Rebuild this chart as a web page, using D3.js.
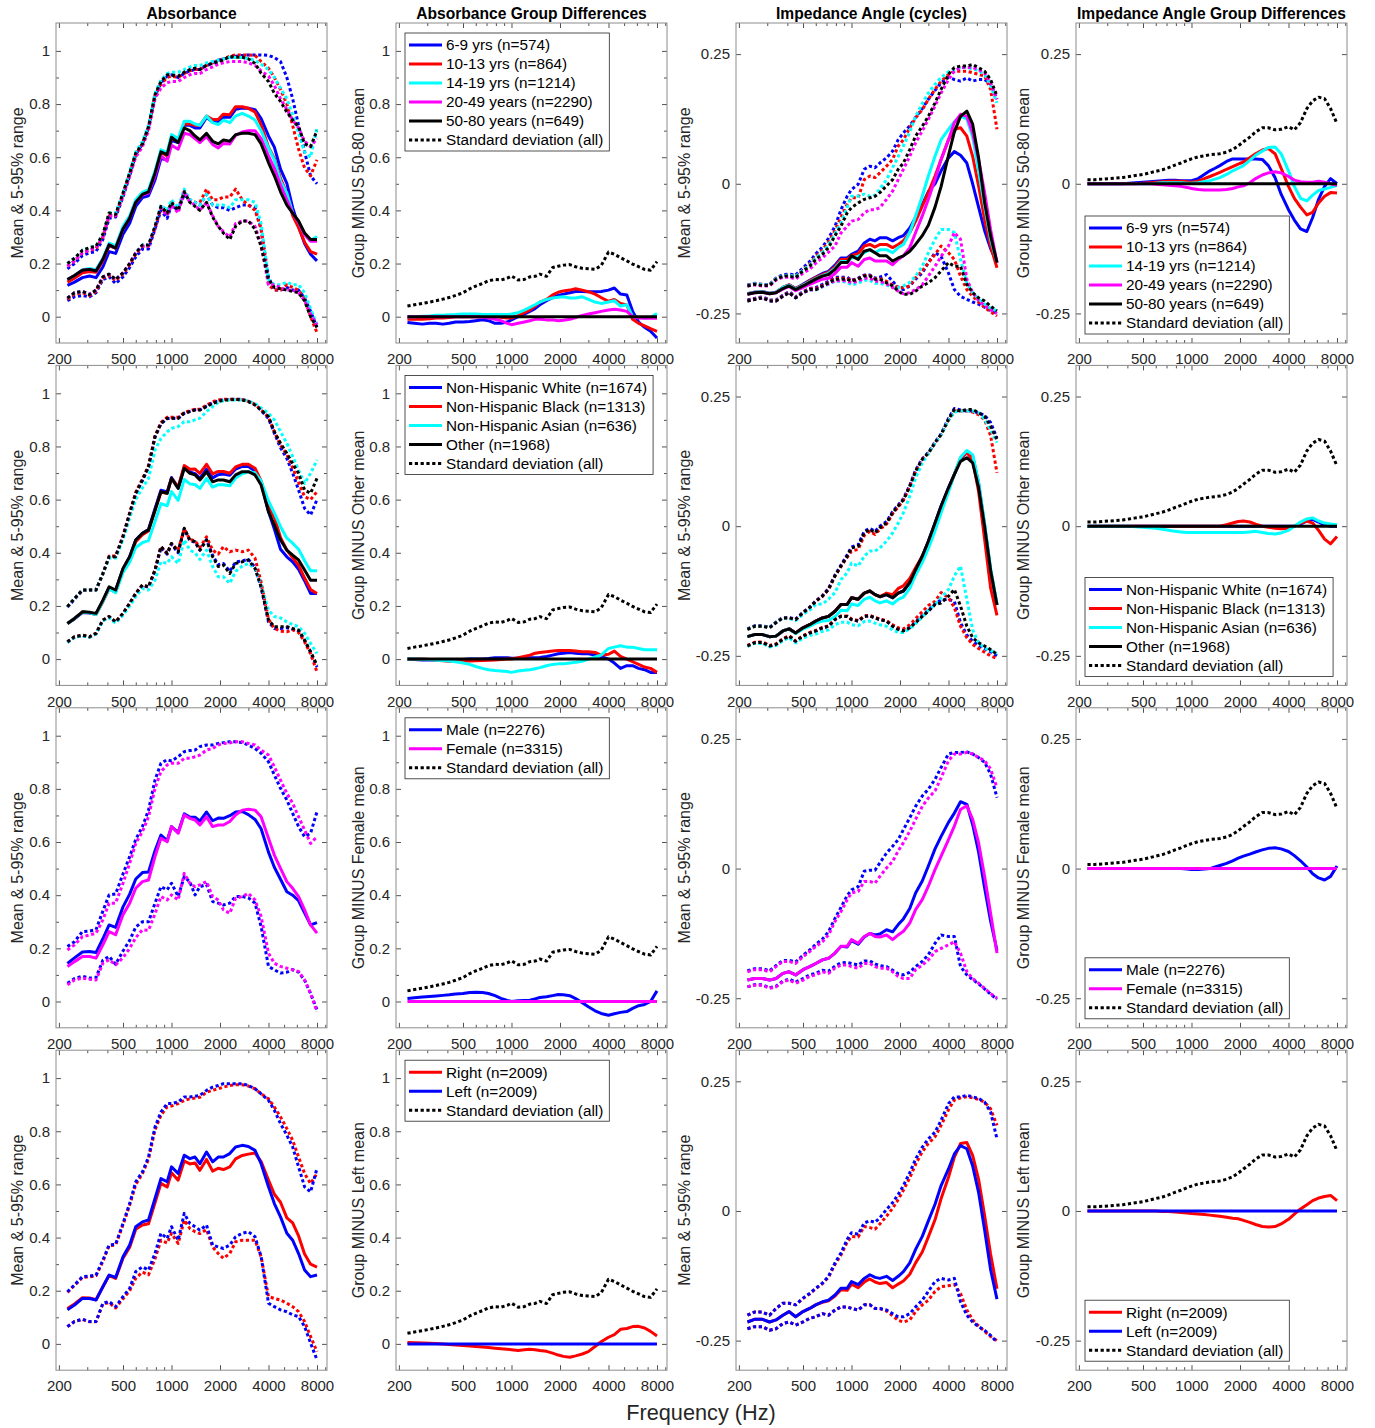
<!DOCTYPE html>
<html>
<head>
<meta charset="utf-8">
<script src="https://cdn.jsdelivr.net/npm/d3@7"></script>
<style>
body { margin: 0; background: #fff; }
text { font-family: "Liberation Sans", Arial, Helvetica, sans-serif; }
</style>
</head>
<body>
<div id="graph"></div>
<script>
// frequency grid (Hz) shared by every series
var freqHz = [226,250,280,310,340,375,410,450,500,550,600,660,720,790,860,940,1000,1100,1200,1300,1400,1500,1650,1800,1950,2100,2300,2500,2750,3000,3300,3600,4000,4350,4750,5200,5650,6150,6700,7300,8000];

var xTickLabels = [200, 500, 1000, 2000, 4000, 8000];
var xMinorTicks = [300, 400, 600, 700, 800, 900, 3000, 5000, 6000, 7000, 9000];
var absTickLabels = [0, 0.2, 0.4, 0.6, 0.8, 1];
var absMinorTicks = [0.1, 0.3, 0.5, 0.7, 0.9];
var angTickLabels = [-0.25, 0, 0.25];

// standard deviation (all), same in every row
var absSD = [0.04,0.045,0.05,0.055,0.06,0.066,0.072,0.08,0.09,0.105,0.115,0.125,0.135,0.14,0.138,0.145,0.153,0.138,0.14,0.15,0.152,0.16,0.152,0.185,0.19,0.194,0.196,0.188,0.182,0.18,0.178,0.192,0.243,0.235,0.222,0.21,0.198,0.188,0.178,0.175,0.207];
var angSD = [0.008,0.008,0.009,0.01,0.011,0.012,0.014,0.016,0.018,0.021,0.024,0.027,0.031,0.036,0.04,0.045,0.048,0.052,0.054,0.056,0.057,0.058,0.061,0.066,0.073,0.081,0.09,0.1,0.108,0.108,0.104,0.105,0.11,0.104,0.118,0.145,0.16,0.167,0.164,0.145,0.116];

// ---------- row 1: age ----------
var ageLabels = ["6-9 yrs (n=574)", "10-13 yrs (n=864)", "14-19 yrs (n=1214)", "20-49 years (n=2290)", "50-80 years (n=649)"];
var absMean50to80 = [0.14,0.155,0.175,0.178,0.172,0.215,0.27,0.258,0.33,0.37,0.43,0.46,0.47,0.54,0.62,0.61,0.675,0.655,0.71,0.7,0.68,0.665,0.69,0.66,0.65,0.665,0.66,0.685,0.69,0.69,0.685,0.65,0.58,0.53,0.47,0.42,0.39,0.36,0.315,0.29,0.29];
var absDiff6to9 = [-0.022,-0.025,-0.028,-0.025,-0.025,-0.028,-0.025,-0.02,-0.02,-0.018,-0.015,-0.012,-0.015,-0.025,-0.025,-0.02,-0.012,0,0.01,0.02,0.03,0.045,0.06,0.072,0.08,0.085,0.09,0.095,0.095,0.094,0.094,0.095,0.1,0.108,0.085,0.082,0.02,-0.02,-0.04,-0.055,-0.08];
var absDiff10to13 = [-0.01,-0.01,-0.01,-0.008,-0.005,-0.005,-0.003,0,0,0,0,0,0,0,-0.002,-0.005,-0.005,0.005,0.015,0.025,0.04,0.055,0.065,0.082,0.092,0.097,0.1,0.105,0.1,0.094,0.085,0.072,0.058,0.065,0.05,0.044,-0.01,-0.025,-0.035,-0.045,-0.055];
var absDiff14to19 = [0,0,0.002,0.003,0.005,0.005,0.007,0.008,0.01,0.01,0.01,0.008,0.008,0.008,0.008,0.008,0.01,0.015,0.025,0.035,0.045,0.055,0.065,0.07,0.073,0.075,0.07,0.07,0.075,0.065,0.055,0.05,0.055,0.06,0.04,0.045,0,-0.003,-0.005,-0.003,0.012];
var absDiff20to49 = [0,0,0,0,0,0,0,0,0,0,0,-0.002,-0.005,-0.01,-0.015,-0.025,-0.03,-0.025,-0.02,-0.015,-0.01,-0.01,-0.012,-0.012,-0.015,-0.013,-0.01,-0.003,0.005,0.01,0.015,0.02,0.025,0.028,0.025,0.02,0,-0.005,-0.006,-0.006,-0.006];
var absUp6to9 = [0.18,0.2,0.23,0.24,0.245,0.29,0.37,0.375,0.45,0.53,0.61,0.65,0.71,0.83,0.88,0.905,0.91,0.9,0.915,0.925,0.93,0.93,0.945,0.955,0.965,0.97,0.975,0.98,0.983,0.985,0.985,0.985,0.983,0.975,0.96,0.9,0.82,0.72,0.62,0.53,0.5];
var absUp10to13 = [0.19,0.21,0.24,0.25,0.255,0.3,0.38,0.38,0.46,0.54,0.61,0.65,0.71,0.83,0.875,0.9,0.905,0.9,0.915,0.925,0.93,0.93,0.945,0.955,0.965,0.97,0.98,0.985,0.985,0.985,0.983,0.96,0.935,0.9,0.855,0.8,0.72,0.63,0.56,0.53,0.59];
var absUp14to19 = [0.2,0.22,0.25,0.26,0.265,0.31,0.39,0.39,0.465,0.545,0.62,0.66,0.72,0.84,0.89,0.915,0.92,0.92,0.93,0.94,0.945,0.945,0.955,0.96,0.965,0.97,0.975,0.975,0.975,0.97,0.965,0.95,0.93,0.9,0.86,0.82,0.76,0.69,0.62,0.6,0.71];
var absUp20to49 = [0.19,0.21,0.24,0.25,0.26,0.3,0.38,0.38,0.455,0.53,0.6,0.64,0.7,0.82,0.86,0.88,0.885,0.885,0.9,0.91,0.915,0.915,0.93,0.94,0.95,0.955,0.96,0.96,0.96,0.955,0.945,0.925,0.905,0.87,0.82,0.78,0.74,0.71,0.66,0.64,0.67];
var absUp50to80 = [0.2,0.22,0.25,0.26,0.265,0.31,0.39,0.385,0.465,0.54,0.615,0.65,0.715,0.835,0.885,0.91,0.91,0.905,0.92,0.93,0.935,0.93,0.947,0.953,0.96,0.966,0.979,0.976,0.976,0.97,0.953,0.916,0.885,0.84,0.81,0.77,0.74,0.715,0.65,0.64,0.7];
var absLo6to9 = [0.06,0.075,0.08,0.075,0.09,0.14,0.15,0.125,0.15,0.185,0.225,0.255,0.255,0.33,0.4,0.37,0.42,0.4,0.46,0.44,0.43,0.42,0.46,0.42,0.41,0.41,0.4,0.41,0.42,0.42,0.41,0.33,0.15,0.1,0.1,0.11,0.1,0.1,0.07,0.02,-0.04];
var absLo10to13 = [0.065,0.085,0.09,0.08,0.095,0.145,0.155,0.135,0.16,0.195,0.235,0.265,0.265,0.335,0.41,0.385,0.43,0.41,0.47,0.44,0.43,0.43,0.48,0.44,0.44,0.45,0.45,0.48,0.44,0.42,0.4,0.33,0.12,0.1,0.1,0.12,0.11,0.1,0.07,0,-0.06];
var absLo14to19 = [0.07,0.09,0.095,0.085,0.1,0.15,0.16,0.14,0.165,0.2,0.24,0.27,0.27,0.34,0.42,0.4,0.44,0.41,0.48,0.44,0.43,0.42,0.46,0.42,0.42,0.42,0.41,0.44,0.44,0.44,0.43,0.35,0.14,0.12,0.12,0.13,0.12,0.12,0.09,0.03,-0.03];
var absLo20to49 = [0.07,0.09,0.095,0.085,0.1,0.15,0.16,0.14,0.165,0.2,0.24,0.265,0.265,0.33,0.41,0.38,0.42,0.39,0.47,0.43,0.42,0.4,0.43,0.38,0.34,0.32,0.3,0.35,0.36,0.36,0.34,0.27,0.12,0.12,0.11,0.1,0.1,0.09,0.06,0.01,-0.03];
var absLo50to80 = [0.07,0.09,0.095,0.083,0.1,0.15,0.16,0.14,0.165,0.2,0.24,0.27,0.27,0.34,0.415,0.39,0.43,0.4,0.47,0.43,0.415,0.4,0.43,0.375,0.34,0.315,0.29,0.34,0.36,0.36,0.33,0.265,0.14,0.11,0.105,0.1,0.095,0.09,0.06,0,-0.04];

var angMean6to9 = [-0.212,-0.209,-0.208,-0.211,-0.209,-0.2,-0.195,-0.202,-0.194,-0.186,-0.18,-0.173,-0.169,-0.157,-0.143,-0.143,-0.136,-0.13,-0.114,-0.107,-0.11,-0.104,-0.104,-0.11,-0.104,-0.1,-0.085,-0.065,-0.04,-0.015,0,0.025,0.05,0.062,0.055,0.04,0,-0.045,-0.09,-0.125,-0.152];
var angMean10to13 = [-0.212,-0.209,-0.208,-0.211,-0.209,-0.2,-0.195,-0.202,-0.195,-0.187,-0.181,-0.175,-0.171,-0.16,-0.146,-0.146,-0.138,-0.135,-0.12,-0.117,-0.122,-0.117,-0.117,-0.123,-0.117,-0.11,-0.094,-0.072,-0.043,-0.017,0.015,0.047,0.085,0.105,0.108,0.092,0.053,-0.004,-0.069,-0.12,-0.162];
var angMean14to19 = [-0.212,-0.209,-0.208,-0.211,-0.209,-0.2,-0.196,-0.203,-0.196,-0.189,-0.183,-0.177,-0.173,-0.163,-0.15,-0.15,-0.143,-0.14,-0.133,-0.127,-0.133,-0.127,-0.127,-0.133,-0.123,-0.117,-0.094,-0.062,-0.024,0.015,0.053,0.085,0.105,0.12,0.13,0.125,0.09,0.025,-0.043,-0.107,-0.152];
var angMean20to49 = [-0.213,-0.21,-0.209,-0.212,-0.21,-0.203,-0.198,-0.206,-0.2,-0.194,-0.189,-0.184,-0.182,-0.173,-0.161,-0.161,-0.152,-0.159,-0.146,-0.143,-0.149,-0.149,-0.149,-0.156,-0.146,-0.139,-0.123,-0.094,-0.062,-0.03,0.008,0.047,0.085,0.118,0.134,0.13,0.098,0.047,-0.017,-0.088,-0.152];
var angMean50to80 = [-0.213,-0.21,-0.209,-0.212,-0.21,-0.202,-0.197,-0.204,-0.197,-0.19,-0.184,-0.178,-0.175,-0.165,-0.152,-0.152,-0.139,-0.146,-0.13,-0.127,-0.133,-0.139,-0.139,-0.149,-0.143,-0.139,-0.13,-0.117,-0.1,-0.08,-0.045,-0.005,0.055,0.1,0.13,0.14,0.115,0.05,-0.035,-0.1,-0.152];
var angDiff6to9 = [0,0,0,0,0,0,0.001,0.002,0.003,0.004,0.005,0.006,0.007,0.007,0.006,0.006,0.006,0.01,0.018,0.025,0.03,0.035,0.043,0.048,0.048,0.048,0.048,0.048,0.047,0.035,0.012,-0.02,-0.05,-0.07,-0.087,-0.092,-0.065,-0.03,-0.005,0.01,0];
var angDiff10to13 = [0,0,0,0,0,0,0,0,0.001,0.002,0.003,0.004,0.005,0.005,0.005,0.004,0.003,0.005,0.01,0.014,0.018,0.022,0.028,0.033,0.038,0.042,0.05,0.058,0.065,0.068,0.058,0.03,-0.005,-0.028,-0.045,-0.06,-0.055,-0.037,-0.024,-0.017,-0.018];
var angDiff14to19 = [0,0,0,0,0,0,0,0,0,0,0.001,0.002,0.002,0.002,0.002,0.001,0.001,0.002,0.004,0.006,0.009,0.012,0.018,0.025,0.03,0.035,0.045,0.055,0.063,0.07,0.071,0.058,0.025,-0.005,-0.028,-0.033,-0.022,-0.013,-0.01,-0.007,-0.003];
var angDiff20to49 = [0,0,0,0,0,0,0,0,0,0,-0.001,-0.002,-0.003,-0.004,-0.005,-0.007,-0.009,-0.011,-0.012,-0.012,-0.012,-0.012,-0.011,-0.009,-0.006,-0.004,0.002,0.01,0.017,0.021,0.023,0.021,0.014,0.007,0.004,0.003,0.003,0.005,0.003,0,-0.003];
var angUp6to9 = [-0.195,-0.192,-0.194,-0.194,-0.182,-0.175,-0.174,-0.176,-0.162,-0.15,-0.135,-0.122,-0.105,-0.082,-0.05,-0.024,-0.011,-0.001,0.028,0.034,0.031,0.04,0.05,0.063,0.085,0.098,0.112,0.128,0.145,0.163,0.18,0.195,0.205,0.201,0.198,0.204,0.198,0.201,0.201,0.192,0.163];
var angUp10to13 = [-0.196,-0.193,-0.195,-0.195,-0.183,-0.177,-0.176,-0.179,-0.165,-0.155,-0.14,-0.128,-0.112,-0.09,-0.065,-0.04,-0.027,-0.027,0.008,0.015,0.012,0.021,0.034,0.047,0.073,0.085,0.108,0.127,0.143,0.163,0.182,0.198,0.211,0.217,0.217,0.217,0.214,0.211,0.208,0.182,0.105];
var angUp14to19 = [-0.196,-0.193,-0.195,-0.195,-0.183,-0.177,-0.176,-0.179,-0.166,-0.157,-0.143,-0.132,-0.118,-0.096,-0.075,-0.045,-0.024,-0.024,-0.02,-0.024,-0.022,-0.01,0.008,0.031,0.053,0.073,0.1,0.13,0.155,0.175,0.192,0.205,0.216,0.22,0.224,0.224,0.222,0.218,0.21,0.19,0.156];
var angUp20to49 = [-0.197,-0.195,-0.197,-0.197,-0.186,-0.18,-0.18,-0.184,-0.172,-0.165,-0.153,-0.143,-0.132,-0.12,-0.095,-0.082,-0.072,-0.069,-0.056,-0.05,-0.05,-0.046,-0.03,-0.014,0.008,0.028,0.053,0.079,0.102,0.124,0.15,0.175,0.201,0.217,0.224,0.224,0.224,0.22,0.214,0.195,0.163];
var angUp50to80 = [-0.197,-0.194,-0.196,-0.196,-0.184,-0.178,-0.178,-0.181,-0.168,-0.159,-0.146,-0.136,-0.123,-0.1,-0.082,-0.056,-0.046,-0.037,-0.03,-0.027,-0.024,-0.017,-0.004,0.008,0.028,0.04,0.066,0.092,0.111,0.13,0.156,0.182,0.211,0.224,0.227,0.227,0.23,0.224,0.217,0.201,0.169];
var angLo6to9 = [-0.224,-0.221,-0.218,-0.224,-0.224,-0.215,-0.208,-0.218,-0.208,-0.202,-0.2,-0.194,-0.188,-0.18,-0.18,-0.18,-0.186,-0.182,-0.176,-0.176,-0.182,-0.18,-0.175,-0.188,-0.2,-0.204,-0.197,-0.184,-0.172,-0.152,-0.133,-0.14,-0.172,-0.204,-0.217,-0.223,-0.228,-0.232,-0.238,-0.244,-0.25];
var angLo10to13 = [-0.225,-0.222,-0.219,-0.225,-0.225,-0.216,-0.209,-0.219,-0.209,-0.203,-0.202,-0.196,-0.19,-0.182,-0.182,-0.182,-0.187,-0.183,-0.177,-0.177,-0.183,-0.183,-0.188,-0.195,-0.2,-0.2,-0.197,-0.181,-0.168,-0.152,-0.136,-0.12,-0.133,-0.146,-0.178,-0.204,-0.217,-0.228,-0.238,-0.247,-0.255];
var angLo14to19 = [-0.226,-0.223,-0.22,-0.226,-0.226,-0.217,-0.21,-0.22,-0.21,-0.205,-0.205,-0.199,-0.194,-0.188,-0.188,-0.19,-0.195,-0.192,-0.186,-0.186,-0.192,-0.192,-0.195,-0.2,-0.2,-0.197,-0.19,-0.178,-0.159,-0.133,-0.107,-0.088,-0.088,-0.094,-0.146,-0.191,-0.21,-0.222,-0.232,-0.24,-0.245];
var angLo20to49 = [-0.226,-0.223,-0.22,-0.226,-0.226,-0.217,-0.21,-0.22,-0.21,-0.205,-0.204,-0.198,-0.193,-0.187,-0.187,-0.187,-0.191,-0.188,-0.182,-0.182,-0.188,-0.188,-0.193,-0.2,-0.207,-0.212,-0.21,-0.204,-0.195,-0.178,-0.159,-0.14,-0.12,-0.094,-0.107,-0.184,-0.21,-0.225,-0.235,-0.243,-0.25];
var angLo50to80 = [-0.226,-0.223,-0.22,-0.226,-0.226,-0.217,-0.21,-0.22,-0.21,-0.204,-0.204,-0.197,-0.191,-0.184,-0.184,-0.184,-0.188,-0.184,-0.178,-0.178,-0.184,-0.184,-0.191,-0.197,-0.207,-0.213,-0.213,-0.207,-0.197,-0.191,-0.181,-0.168,-0.152,-0.159,-0.159,-0.194,-0.21,-0.22,-0.226,-0.236,-0.245];

// ---------- row 2: race / ethnicity ----------
var raceLabels = ["Non-Hispanic White (n=1674)", "Non-Hispanic Black (n=1313)", "Non-Hispanic Asian (n=636)", "Other (n=1968)"];
var absMeanOther = [0.134,0.153,0.178,0.176,0.172,0.222,0.272,0.26,0.341,0.385,0.448,0.473,0.486,0.561,0.63,0.624,0.68,0.642,0.718,0.699,0.693,0.674,0.705,0.667,0.674,0.674,0.667,0.693,0.705,0.705,0.693,0.655,0.555,0.504,0.448,0.41,0.391,0.373,0.335,0.297,0.297];
var absDiffWhite = [0,-0.002,-0.003,-0.003,-0.003,-0.003,-0.003,-0.002,-0.002,0,0,0,0.002,0.005,0.005,0.005,0.003,0.003,0.004,0.005,0.005,0.006,0.01,0.015,0.02,0.022,0.025,0.022,0.02,0.02,0.015,0.01,0,-0.015,-0.035,-0.025,-0.025,-0.035,-0.04,-0.05,-0.05];
var absDiffBlack = [0,0,0,-0.002,-0.004,-0.006,-0.008,-0.008,-0.008,-0.007,-0.006,-0.005,-0.004,-0.003,-0.002,0,0,0.005,0.01,0.015,0.022,0.025,0.028,0.03,0.032,0.032,0.032,0.03,0.028,0.028,0.025,0.015,0.018,0.03,0.01,0,-0.01,-0.02,-0.03,-0.035,-0.05];
var absDiffAsian = [0,0,-0.001,-0.002,-0.004,-0.005,-0.007,-0.01,-0.015,-0.02,-0.028,-0.035,-0.04,-0.043,-0.045,-0.047,-0.05,-0.045,-0.042,-0.04,-0.036,-0.032,-0.025,-0.02,-0.018,-0.018,-0.015,-0.012,-0.008,0,0.008,0.015,0.04,0.045,0.05,0.045,0.045,0.04,0.035,0.035,0.035];
var absUpWhite = [0.195,0.225,0.258,0.26,0.26,0.32,0.383,0.385,0.46,0.545,0.622,0.672,0.722,0.835,0.885,0.905,0.906,0.906,0.925,0.932,0.938,0.938,0.952,0.965,0.971,0.976,0.977,0.978,0.977,0.97,0.958,0.935,0.905,0.85,0.795,0.755,0.7,0.636,0.567,0.542,0.6];
var absUpBlack = [0.197,0.228,0.26,0.26,0.26,0.322,0.388,0.388,0.465,0.55,0.628,0.678,0.728,0.84,0.89,0.91,0.91,0.91,0.928,0.935,0.94,0.94,0.955,0.968,0.975,0.978,0.978,0.978,0.976,0.97,0.958,0.938,0.91,0.855,0.805,0.77,0.72,0.665,0.611,0.6,0.63];
var absUpAsian = [0.197,0.228,0.26,0.26,0.26,0.322,0.38,0.38,0.45,0.53,0.6,0.645,0.68,0.787,0.83,0.855,0.868,0.875,0.893,0.893,0.9,0.906,0.931,0.95,0.965,0.972,0.975,0.975,0.975,0.97,0.962,0.945,0.925,0.9,0.856,0.812,0.762,0.711,0.661,0.699,0.749];
var absUpOther = [0.197,0.228,0.26,0.26,0.26,0.322,0.385,0.385,0.46,0.548,0.624,0.674,0.724,0.837,0.887,0.906,0.906,0.906,0.925,0.931,0.937,0.937,0.95,0.962,0.969,0.975,0.975,0.977,0.975,0.969,0.956,0.937,0.912,0.856,0.812,0.774,0.736,0.699,0.636,0.624,0.68];
var absLoWhite = [0.063,0.082,0.088,0.082,0.095,0.145,0.158,0.138,0.17,0.208,0.245,0.277,0.27,0.333,0.42,0.395,0.432,0.4,0.49,0.445,0.44,0.41,0.45,0.39,0.355,0.36,0.33,0.365,0.37,0.375,0.345,0.27,0.14,0.115,0.115,0.118,0.112,0.105,0.07,0.025,-0.03];
var absLoBlack = [0.065,0.084,0.09,0.084,0.097,0.147,0.16,0.14,0.172,0.21,0.247,0.279,0.272,0.335,0.423,0.398,0.435,0.41,0.49,0.45,0.445,0.42,0.46,0.41,0.395,0.423,0.404,0.41,0.404,0.41,0.38,0.29,0.15,0.115,0.105,0.103,0.11,0.1,0.065,0.02,-0.048];
var absLoAsian = [0.063,0.082,0.088,0.082,0.095,0.145,0.155,0.135,0.165,0.2,0.235,0.265,0.26,0.297,0.366,0.36,0.385,0.36,0.448,0.41,0.4,0.375,0.41,0.348,0.31,0.31,0.285,0.33,0.35,0.36,0.34,0.28,0.184,0.16,0.155,0.14,0.13,0.122,0.097,0.059,0.021];
var absLoOther = [0.065,0.084,0.09,0.084,0.097,0.147,0.16,0.14,0.172,0.21,0.247,0.279,0.272,0.335,0.423,0.398,0.435,0.404,0.492,0.448,0.442,0.41,0.448,0.385,0.348,0.354,0.322,0.36,0.366,0.373,0.341,0.272,0.147,0.122,0.122,0.122,0.115,0.109,0.072,0.028,-0.023];

var angMeanOther = [-0.213,-0.209,-0.209,-0.213,-0.212,-0.202,-0.198,-0.206,-0.196,-0.19,-0.183,-0.177,-0.174,-0.164,-0.151,-0.151,-0.138,-0.141,-0.129,-0.125,-0.132,-0.136,-0.132,-0.138,-0.129,-0.125,-0.109,-0.084,-0.058,-0.029,0.006,0.039,0.074,0.1,0.125,0.132,0.122,0.075,0,-0.085,-0.152];
var angDiffWhite = [0,0,0,0,0,0,0,0,0,0,0,0,0,0,0,0,0,0,0,0,0,0,0,0,0,0,0,0,0,0,0,0,0,0,0.004,0.01,0.013,0.008,0.002,0,0];
var angDiffBlack = [0,0,0,0,0,0,0,0,0,0,0,0,0,0,0,0,0,0,0,0,0,0,0.003,0.006,0.009,0.01,0.008,0.004,0,-0.002,-0.004,-0.005,-0.004,0,0.006,0.01,0.006,-0.008,-0.025,-0.034,-0.02];
var angDiffAsian = [0,0,0,0,0,0,0,-0.001,-0.002,-0.003,-0.004,-0.006,-0.008,-0.01,-0.011,-0.012,-0.012,-0.012,-0.012,-0.012,-0.012,-0.012,-0.012,-0.012,-0.012,-0.012,-0.011,-0.01,-0.012,-0.014,-0.015,-0.013,-0.008,0,0.008,0.014,0.016,0.01,0.006,0.004,0.003];
var angUpWhite = [-0.198,-0.192,-0.192,-0.195,-0.185,-0.176,-0.176,-0.179,-0.166,-0.156,-0.144,-0.134,-0.12,-0.094,-0.075,-0.055,-0.04,-0.036,-0.01,-0.004,-0.01,0,0.009,0.028,0.041,0.053,0.079,0.108,0.13,0.142,0.162,0.178,0.208,0.227,0.224,0.222,0.222,0.218,0.214,0.2,0.17];
var angUpBlack = [-0.199,-0.193,-0.193,-0.196,-0.186,-0.177,-0.177,-0.18,-0.167,-0.157,-0.145,-0.135,-0.122,-0.096,-0.078,-0.06,-0.048,-0.045,-0.018,-0.01,-0.016,-0.006,0.004,0.024,0.037,0.05,0.076,0.105,0.128,0.14,0.16,0.176,0.204,0.222,0.222,0.222,0.22,0.215,0.205,0.175,0.103];
var angUpAsian = [-0.199,-0.193,-0.193,-0.196,-0.186,-0.177,-0.178,-0.182,-0.17,-0.162,-0.151,-0.15,-0.141,-0.128,-0.103,-0.09,-0.071,-0.077,-0.058,-0.048,-0.048,-0.042,-0.029,-0.013,0.006,0.026,0.058,0.093,0.122,0.14,0.16,0.176,0.204,0.22,0.222,0.222,0.222,0.219,0.206,0.186,0.161];
var angUpOther = [-0.199,-0.193,-0.193,-0.196,-0.186,-0.177,-0.177,-0.18,-0.167,-0.157,-0.145,-0.135,-0.122,-0.096,-0.077,-0.058,-0.042,-0.039,-0.013,-0.006,-0.013,-0.003,0.006,0.026,0.039,0.051,0.077,0.106,0.129,0.141,0.161,0.177,0.206,0.225,0.222,0.225,0.225,0.219,0.212,0.193,0.167];
var angLoWhite = [-0.231,-0.225,-0.224,-0.231,-0.228,-0.218,-0.212,-0.222,-0.212,-0.206,-0.202,-0.196,-0.193,-0.18,-0.174,-0.174,-0.18,-0.183,-0.174,-0.173,-0.177,-0.18,-0.183,-0.192,-0.198,-0.2,-0.195,-0.185,-0.173,-0.162,-0.15,-0.142,-0.141,-0.145,-0.186,-0.21,-0.222,-0.23,-0.236,-0.242,-0.25];
var angLoBlack = [-0.23,-0.224,-0.223,-0.23,-0.227,-0.217,-0.211,-0.221,-0.211,-0.205,-0.201,-0.195,-0.192,-0.179,-0.173,-0.173,-0.179,-0.182,-0.173,-0.172,-0.176,-0.179,-0.182,-0.19,-0.196,-0.198,-0.19,-0.178,-0.165,-0.153,-0.145,-0.128,-0.138,-0.157,-0.193,-0.215,-0.228,-0.236,-0.243,-0.25,-0.255];
var angLoAsian = [-0.232,-0.226,-0.226,-0.233,-0.23,-0.221,-0.215,-0.225,-0.216,-0.211,-0.208,-0.203,-0.2,-0.19,-0.185,-0.185,-0.19,-0.192,-0.184,-0.183,-0.187,-0.19,-0.193,-0.2,-0.205,-0.205,-0.198,-0.188,-0.175,-0.162,-0.151,-0.138,-0.122,-0.096,-0.077,-0.141,-0.2,-0.225,-0.235,-0.24,-0.245];
var angLoOther = [-0.231,-0.225,-0.224,-0.231,-0.228,-0.218,-0.212,-0.222,-0.212,-0.206,-0.202,-0.196,-0.193,-0.18,-0.174,-0.174,-0.18,-0.183,-0.174,-0.173,-0.177,-0.18,-0.183,-0.193,-0.199,-0.202,-0.196,-0.186,-0.174,-0.164,-0.151,-0.148,-0.135,-0.122,-0.154,-0.193,-0.215,-0.225,-0.231,-0.238,-0.247];

// ---------- row 3: sex ----------
var sexLabels = ["Male (n=2276)", "Female (n=3315)"];
var absMeanFemale = [0.132,0.15,0.169,0.169,0.163,0.213,0.263,0.251,0.326,0.37,0.426,0.451,0.457,0.545,0.614,0.601,0.658,0.633,0.702,0.689,0.683,0.664,0.695,0.658,0.664,0.664,0.677,0.702,0.72,0.723,0.72,0.695,0.614,0.551,0.501,0.451,0.426,0.395,0.345,0.288,0.257];
var absDiffMale = [0.011,0.014,0.017,0.019,0.021,0.023,0.025,0.028,0.03,0.034,0.035,0.034,0.03,0.022,0.012,0.004,0,0.003,0.004,0.005,0.01,0.015,0.018,0.022,0.026,0.025,0.022,0.011,-0.005,-0.02,-0.035,-0.045,-0.052,-0.046,-0.041,-0.038,-0.026,-0.016,-0.011,0,0.04];
var absUpMale = [0.207,0.225,0.263,0.265,0.27,0.34,0.401,0.405,0.48,0.545,0.61,0.658,0.72,0.833,0.896,0.91,0.905,0.921,0.94,0.944,0.946,0.959,0.965,0.965,0.971,0.974,0.977,0.977,0.974,0.965,0.952,0.934,0.902,0.852,0.802,0.758,0.708,0.658,0.62,0.633,0.714];
var absUpFemale = [0.194,0.213,0.244,0.25,0.257,0.307,0.37,0.37,0.445,0.52,0.595,0.639,0.695,0.802,0.865,0.89,0.896,0.896,0.915,0.915,0.921,0.927,0.946,0.952,0.965,0.971,0.973,0.977,0.977,0.971,0.965,0.946,0.927,0.883,0.833,0.783,0.746,0.695,0.645,0.595,0.62];
var absLoMale = [0.069,0.086,0.095,0.088,0.09,0.155,0.17,0.14,0.19,0.23,0.28,0.3,0.3,0.37,0.432,0.42,0.445,0.395,0.47,0.45,0.401,0.432,0.44,0.376,0.37,0.363,0.37,0.395,0.395,0.39,0.37,0.282,0.132,0.119,0.107,0.11,0.12,0.11,0.08,0.03,-0.031];
var absLoFemale = [0.063,0.081,0.088,0.084,0.081,0.144,0.157,0.138,0.165,0.2,0.24,0.27,0.268,0.33,0.395,0.382,0.401,0.382,0.482,0.445,0.432,0.439,0.451,0.395,0.382,0.345,0.332,0.388,0.395,0.407,0.382,0.32,0.182,0.144,0.132,0.125,0.119,0.113,0.081,0.031,-0.038];

var angMeanFemale = [-0.215,-0.212,-0.212,-0.215,-0.212,-0.202,-0.199,-0.205,-0.195,-0.189,-0.183,-0.176,-0.173,-0.163,-0.15,-0.15,-0.137,-0.144,-0.131,-0.125,-0.131,-0.132,-0.128,-0.137,-0.128,-0.121,-0.105,-0.079,-0.06,-0.034,-0.002,0.024,0.056,0.082,0.114,0.121,0.095,0.05,-0.015,-0.086,-0.163];
var angDiffMale = [0,0,0,0,0,0,0,0,0,0,0,0,0,0,0,-0.001,-0.002,-0.002,-0.001,0,0.003,0.006,0.01,0.015,0.02,0.024,0.028,0.032,0.036,0.039,0.04,0.038,0.033,0.025,0.015,0.003,-0.01,-0.018,-0.022,-0.015,0.005];
var angUpMale = [-0.197,-0.193,-0.193,-0.197,-0.187,-0.177,-0.177,-0.18,-0.167,-0.157,-0.146,-0.136,-0.122,-0.096,-0.075,-0.052,-0.041,-0.035,-0.005,-0.003,-0.003,0.011,0.03,0.043,0.056,0.075,0.098,0.12,0.14,0.153,0.172,0.195,0.221,0.224,0.224,0.225,0.221,0.214,0.205,0.182,0.137];
var angUpFemale = [-0.199,-0.195,-0.195,-0.199,-0.189,-0.179,-0.179,-0.183,-0.17,-0.16,-0.15,-0.141,-0.128,-0.102,-0.083,-0.06,-0.047,-0.044,-0.025,-0.025,-0.028,-0.015,0.001,0.014,0.034,0.05,0.072,0.095,0.12,0.136,0.15,0.175,0.208,0.221,0.221,0.224,0.221,0.214,0.208,0.192,0.156];
var angLoMale = [-0.228,-0.224,-0.224,-0.23,-0.227,-0.217,-0.213,-0.219,-0.212,-0.205,-0.202,-0.196,-0.198,-0.188,-0.182,-0.181,-0.183,-0.186,-0.178,-0.178,-0.184,-0.187,-0.189,-0.196,-0.203,-0.205,-0.2,-0.189,-0.179,-0.166,-0.144,-0.128,-0.131,-0.131,-0.189,-0.205,-0.214,-0.222,-0.232,-0.242,-0.252];
var angLoFemale = [-0.228,-0.225,-0.225,-0.231,-0.228,-0.218,-0.215,-0.221,-0.215,-0.208,-0.205,-0.199,-0.202,-0.192,-0.186,-0.186,-0.189,-0.192,-0.183,-0.183,-0.189,-0.192,-0.192,-0.199,-0.208,-0.212,-0.212,-0.195,-0.186,-0.176,-0.16,-0.154,-0.147,-0.141,-0.163,-0.199,-0.212,-0.221,-0.231,-0.241,-0.25];

// ---------- row 4: ear ----------
var earLabels = ["Right (n=2009)", "Left (n=2009)"];
var absMeanLeft = [0.128,0.146,0.171,0.171,0.165,0.215,0.259,0.25,0.328,0.372,0.441,0.459,0.466,0.547,0.622,0.61,0.666,0.641,0.71,0.697,0.703,0.678,0.722,0.685,0.703,0.703,0.716,0.741,0.747,0.743,0.728,0.678,0.591,0.528,0.478,0.416,0.39,0.34,0.278,0.253,0.259];
var absDiffRight = [0.005,0.004,0.003,0.002,0.001,0,-0.002,-0.004,-0.006,-0.008,-0.01,-0.012,-0.014,-0.016,-0.018,-0.02,-0.022,-0.025,-0.022,-0.02,-0.022,-0.025,-0.028,-0.035,-0.042,-0.047,-0.05,-0.045,-0.038,-0.029,-0.01,0.008,0.025,0.035,0.055,0.058,0.065,0.066,0.06,0.047,0.03];
var absUpRight = [0.194,0.22,0.25,0.252,0.256,0.31,0.37,0.372,0.448,0.522,0.6,0.64,0.695,0.805,0.86,0.892,0.895,0.904,0.916,0.922,0.925,0.928,0.947,0.954,0.96,0.966,0.972,0.975,0.975,0.97,0.96,0.941,0.922,0.891,0.854,0.81,0.766,0.703,0.641,0.603,0.641];
var absUpLeft = [0.196,0.222,0.253,0.255,0.259,0.315,0.372,0.375,0.453,0.528,0.61,0.647,0.703,0.816,0.872,0.904,0.904,0.91,0.929,0.929,0.932,0.935,0.954,0.966,0.972,0.979,0.979,0.979,0.979,0.972,0.96,0.941,0.916,0.879,0.829,0.785,0.741,0.666,0.591,0.572,0.66];
var absLoRight = [0.065,0.084,0.092,0.083,0.083,0.15,0.155,0.135,0.17,0.2,0.247,0.27,0.26,0.32,0.39,0.38,0.416,0.378,0.466,0.434,0.422,0.415,0.43,0.365,0.34,0.322,0.34,0.384,0.39,0.39,0.39,0.328,0.178,0.171,0.165,0.153,0.14,0.121,0.084,0.028,-0.029];
var absLoLeft = [0.065,0.084,0.093,0.084,0.084,0.153,0.159,0.14,0.178,0.209,0.272,0.29,0.278,0.34,0.416,0.397,0.441,0.39,0.491,0.453,0.441,0.428,0.447,0.372,0.365,0.359,0.372,0.403,0.416,0.422,0.403,0.328,0.153,0.14,0.128,0.121,0.109,0.103,0.065,0.003,-0.06];

var angMeanLeft = [-0.214,-0.209,-0.209,-0.214,-0.21,-0.201,-0.194,-0.204,-0.194,-0.188,-0.181,-0.175,-0.172,-0.162,-0.149,-0.149,-0.136,-0.142,-0.13,-0.123,-0.128,-0.13,-0.126,-0.134,-0.126,-0.117,-0.1,-0.074,-0.049,-0.019,0.013,0.049,0.081,0.11,0.126,0.12,0.087,0.036,-0.036,-0.113,-0.17];
var angDiffRight = [0,0,0,0,0,0,0,0,0,0,0,-0.001,-0.001,-0.002,-0.003,-0.004,-0.005,-0.006,-0.007,-0.008,-0.009,-0.01,-0.012,-0.014,-0.015,-0.018,-0.022,-0.026,-0.03,-0.031,-0.03,-0.025,-0.016,-0.006,0.004,0.012,0.02,0.025,0.028,0.03,0.02];
var angUpRight = [-0.201,-0.195,-0.195,-0.201,-0.188,-0.178,-0.178,-0.181,-0.169,-0.16,-0.15,-0.14,-0.128,-0.103,-0.085,-0.06,-0.049,-0.05,-0.03,-0.032,-0.035,-0.025,-0.01,0.005,0.022,0.04,0.064,0.09,0.114,0.13,0.143,0.165,0.195,0.214,0.218,0.22,0.218,0.215,0.21,0.197,0.165];
var angUpLeft = [-0.201,-0.195,-0.195,-0.201,-0.188,-0.178,-0.178,-0.181,-0.168,-0.159,-0.149,-0.139,-0.126,-0.1,-0.081,-0.055,-0.042,-0.045,-0.023,-0.019,-0.022,-0.013,0.003,0.016,0.032,0.049,0.074,0.1,0.123,0.139,0.152,0.175,0.207,0.22,0.22,0.223,0.22,0.217,0.21,0.191,0.139];
var angLoRight = [-0.227,-0.223,-0.223,-0.23,-0.227,-0.217,-0.214,-0.22,-0.214,-0.207,-0.204,-0.198,-0.201,-0.191,-0.185,-0.185,-0.188,-0.191,-0.181,-0.181,-0.188,-0.188,-0.193,-0.202,-0.211,-0.214,-0.21,-0.194,-0.181,-0.172,-0.155,-0.146,-0.144,-0.142,-0.159,-0.191,-0.21,-0.222,-0.232,-0.242,-0.25];
var angLoLeft = [-0.227,-0.223,-0.223,-0.23,-0.227,-0.217,-0.214,-0.22,-0.214,-0.207,-0.204,-0.198,-0.201,-0.191,-0.185,-0.185,-0.188,-0.191,-0.181,-0.181,-0.188,-0.188,-0.191,-0.198,-0.204,-0.204,-0.198,-0.185,-0.172,-0.155,-0.136,-0.13,-0.133,-0.13,-0.175,-0.201,-0.214,-0.223,-0.23,-0.24,-0.253];

// ---------- helpers ----------
function plus(a, b) { return a.map(function (v, i) { return v + b[i]; }); }
function minusSelf(a) { return a.map(function (v) { return v - v; }); }

var BLUE = "#0000ff", RED = "#ff0000", CYAN = "#00ffff", MAGENTA = "#ff00ff", BLACK = "#000000";

var rows = [
	{
		labels: ageLabels, colors: [BLUE, RED, CYAN, MAGENTA, BLACK], refName: "50-80",
		absMean: [plus(absMean50to80, absDiff6to9), plus(absMean50to80, absDiff10to13), plus(absMean50to80, absDiff14to19), plus(absMean50to80, absDiff20to49), absMean50to80],
		absDiff: [absDiff6to9, absDiff10to13, absDiff14to19, absDiff20to49, minusSelf(absMean50to80)],
		absUp: [absUp6to9, absUp10to13, absUp14to19, absUp20to49, absUp50to80],
		absLo: [absLo6to9, absLo10to13, absLo14to19, absLo20to49, absLo50to80],
		angMean: [angMean6to9, angMean10to13, angMean14to19, angMean20to49, angMean50to80],
		angDiff: [angDiff6to9, angDiff10to13, angDiff14to19, angDiff20to49, minusSelf(angMean50to80)],
		angUp: [angUp6to9, angUp10to13, angUp14to19, angUp20to49, angUp50to80],
		angLo: [angLo6to9, angLo10to13, angLo14to19, angLo20to49, angLo50to80]
	},
	{
		labels: raceLabels, colors: [BLUE, RED, CYAN, BLACK], refName: "Other",
		absMean: [plus(absMeanOther, absDiffWhite), plus(absMeanOther, absDiffBlack), plus(absMeanOther, absDiffAsian), absMeanOther],
		absDiff: [absDiffWhite, absDiffBlack, absDiffAsian, minusSelf(absMeanOther)],
		absUp: [absUpWhite, absUpBlack, absUpAsian, absUpOther],
		absLo: [absLoWhite, absLoBlack, absLoAsian, absLoOther],
		angMean: [plus(angMeanOther, angDiffWhite), plus(angMeanOther, angDiffBlack), plus(angMeanOther, angDiffAsian), angMeanOther],
		angDiff: [angDiffWhite, angDiffBlack, angDiffAsian, minusSelf(angMeanOther)],
		angUp: [angUpWhite, angUpBlack, angUpAsian, angUpOther],
		angLo: [angLoWhite, angLoBlack, angLoAsian, angLoOther]
	},
	{
		labels: sexLabels, colors: [BLUE, MAGENTA], refName: "Female",
		absMean: [plus(absMeanFemale, absDiffMale), absMeanFemale],
		absDiff: [absDiffMale, minusSelf(absMeanFemale)],
		absUp: [absUpMale, absUpFemale],
		absLo: [absLoMale, absLoFemale],
		angMean: [plus(angMeanFemale, angDiffMale), angMeanFemale],
		angDiff: [angDiffMale, minusSelf(angMeanFemale)],
		angUp: [angUpMale, angUpFemale],
		angLo: [angLoMale, angLoFemale]
	},
	{
		labels: earLabels, colors: [RED, BLUE], refName: "Left",
		absMean: [plus(absMeanLeft, absDiffRight), absMeanLeft],
		absDiff: [absDiffRight, minusSelf(absMeanLeft)],
		absUp: [absUpRight, absUpLeft],
		absLo: [absLoRight, absLoLeft],
		angMean: [plus(angMeanLeft, angDiffRight), angMeanLeft],
		angDiff: [angDiffRight, minusSelf(angMeanLeft)],
		angUp: [angUpRight, angUpLeft],
		angLo: [angLoRight, angLoLeft]
	}
];

// ---------- layout ----------
var width = 1375, height = 1428;
var colLeft = [56, 396, 736, 1076], panelW = 271;
var rowTop = [23, 365.4, 707.8, 1050.2], panelH = 320;
var absDomain = [-0.099, 1.105], angDomain = [-0.307, 0.31];
var titles = ["Absorbance", "Absorbance Group Differences", "Impedance Angle (cycles)", "Impedance Angle Group Differences"];
var axisColor = "#262626";
var DOT = "3.2,2.6";

var svg = d3.select("#graph").append("svg")
	.attr("width", width).attr("height", height)
	.style("background", "#fff");

function fmtTick(d) { return String(d); }

function drawPanel(col, row, series, legend) {
	var left = colLeft[col], top = rowTop[row];
	var isAbs = col < 2;
	var x = d3.scaleLog().domain([191.9, 9231]).range([left, left + panelW]);
	var y = d3.scaleLinear().domain(isAbs ? absDomain : angDomain).range([top + panelH, top]);
	var g = svg.append("g");

	g.append("rect").attr("x", left).attr("y", top).attr("width", panelW).attr("height", panelH)
		.attr("fill", "#fff");

	var clipId = "clip" + col + "_" + row;
	g.append("clipPath").attr("id", clipId).append("rect")
		.attr("x", left).attr("y", top).attr("width", panelW).attr("height", panelH);

	var line = d3.line()
		.x(function (d) { return x(d[0]); })
		.y(function (d) { return y(d[1]); });

	var plot = g.append("g").attr("clip-path", "url(#" + clipId + ")");
	series.forEach(function (s) {
		plot.append("path")
			.datum(freqHz.map(function (f, i) { return [f, s.v[i]]; }))
			.attr("d", line)
			.attr("fill", "none")
			.attr("stroke", s.color)
			.attr("stroke-width", 3)
			.attr("stroke-linejoin", "round")
			.attr("stroke-dasharray", s.dotted ? DOT : null);
	});

	// axes
	var yMajor = isAbs ? absTickLabels : angTickLabels;
	var yMinor = isAbs ? absMinorTicks : [];
	var bottom = top + panelH, right = left + panelW;

	function styleAxis(sel) {
		sel.select(".domain").remove();
		sel.selectAll(".tick line").attr("stroke", axisColor).attr("stroke-width", 0.8);
		sel.selectAll(".tick text").attr("fill", axisColor).style("font-size", "15px")
			.style("font-family", "'Liberation Sans', Arial, Helvetica, sans-serif");
	}

	g.append("g").attr("transform", "translate(0," + bottom + ")")
		.call(d3.axisBottom(x).tickValues(xTickLabels).tickFormat(d3.format("d")).tickSizeInner(-5).tickSizeOuter(0).tickPadding(10.5))
		.call(styleAxis);
	g.append("g").attr("transform", "translate(0," + bottom + ")")
		.call(d3.axisBottom(x).tickValues(xMinorTicks).tickFormat("").tickSizeInner(-3).tickSizeOuter(0))
		.call(styleAxis);
	g.append("g").attr("transform", "translate(0," + top + ")")
		.call(d3.axisTop(x).tickValues(xTickLabels).tickFormat("").tickSizeInner(-5).tickSizeOuter(0))
		.call(styleAxis);
	g.append("g").attr("transform", "translate(0," + top + ")")
		.call(d3.axisTop(x).tickValues(xMinorTicks).tickFormat("").tickSizeInner(-3).tickSizeOuter(0))
		.call(styleAxis);

	g.append("g").attr("transform", "translate(" + left + ",0)")
		.call(d3.axisLeft(y).tickValues(yMajor).tickFormat(fmtTick).tickSizeInner(-5).tickSizeOuter(0).tickPadding(6))
		.call(styleAxis);
	g.append("g").attr("transform", "translate(" + right + ",0)")
		.call(d3.axisRight(y).tickValues(yMajor).tickFormat("").tickSizeInner(-5).tickSizeOuter(0))
		.call(styleAxis);
	if (yMinor.length) {
		g.append("g").attr("transform", "translate(" + left + ",0)")
			.call(d3.axisLeft(y).tickValues(yMinor).tickFormat("").tickSizeInner(-3).tickSizeOuter(0))
			.call(styleAxis);
		g.append("g").attr("transform", "translate(" + right + ",0)")
			.call(d3.axisRight(y).tickValues(yMinor).tickFormat("").tickSizeInner(-3).tickSizeOuter(0))
			.call(styleAxis);
	}

	g.append("rect").attr("x", left).attr("y", top).attr("width", panelW).attr("height", panelH)
		.attr("fill", "none").attr("stroke", "#8c8c8c").attr("stroke-width", 1);

	// y label
	var ylab = (col % 2 === 0) ? "Mean & 5-95% range" : "Group MINUS " + rows[row].refName + " mean";
	var ylx = (col % 2 === 0) ? (col === 0 ? left - 39 : left - 52) : (col === 1 ? left - 38 : left - 53);
	g.append("text")
		.attr("transform", "translate(" + ylx + "," + (top + panelH / 2) + ") rotate(-90)")
		.attr("text-anchor", "middle")
		.attr("dy", "0.35em")
		.attr("fill", axisColor)
		.style("font-size", "16px")
		.text(ylab);

	if (row === 0) {
		g.append("text")
			.attr("x", left + panelW / 2).attr("y", 19)
			.attr("text-anchor", "middle")
			.attr("fill", "#000")
			.style("font-size", "15.6px").style("font-weight", "bold")
			.text(titles[col]);
	}

	if (legend) {
		var rowH = 19, n = legend.length;
		var lh = n * rowH + 4;
		var lx = left + 9;
		var ly = (col === 1) ? top + 10 : bottom - 9 - lh;
		var lg = g.append("g");
		var box = lg.append("rect").attr("x", lx).attr("y", ly).attr("height", lh)
			.attr("fill", "#fff").attr("stroke", axisColor).attr("stroke-width", 0.8);
		var maxW = 0;
		legend.forEach(function (it, i) {
			var cy = ly + 12 + i * rowH;
			lg.append("line").attr("x1", lx + 4).attr("x2", lx + 37).attr("y1", cy).attr("y2", cy)
				.attr("stroke", it.color).attr("stroke-width", 3)
				.attr("stroke-dasharray", it.dotted ? DOT : null);
			var t = lg.append("text").attr("x", lx + 41).attr("y", cy).attr("dy", "0.35em")
				.attr("fill", "#000").style("font-size", "15.3px").text(it.label);
			maxW = Math.max(maxW, t.node().getComputedTextLength());
		});
		box.attr("width", 41 + maxW + 6);
	}
}

rows.forEach(function (r, ri) {
	// col 0: absorbance mean + range
	var s0 = [];
	r.labels.forEach(function (lab, gi) {
		s0.push({ v: r.absMean[gi], color: r.colors[gi] });
		s0.push({ v: r.absUp[gi], color: r.colors[gi], dotted: true });
		s0.push({ v: r.absLo[gi], color: r.colors[gi], dotted: true });
	});
	drawPanel(0, ri, s0, null);

	var legendItems = r.labels.map(function (lab, gi) { return { label: lab, color: r.colors[gi] }; });
	legendItems.push({ label: "Standard deviation (all)", color: BLACK, dotted: true });

	var s1 = r.labels.map(function (lab, gi) { return { v: r.absDiff[gi], color: r.colors[gi] }; });
	s1.push({ v: absSD, color: BLACK, dotted: true });
	drawPanel(1, ri, s1, legendItems);

	var s2 = [];
	r.labels.forEach(function (lab, gi) {
		s2.push({ v: r.angMean[gi], color: r.colors[gi] });
		s2.push({ v: r.angUp[gi], color: r.colors[gi], dotted: true });
		s2.push({ v: r.angLo[gi], color: r.colors[gi], dotted: true });
	});
	drawPanel(2, ri, s2, null);

	var s3 = r.labels.map(function (lab, gi) { return { v: r.angDiff[gi], color: r.colors[gi] }; });
	s3.push({ v: angSD, color: BLACK, dotted: true });
	drawPanel(3, ri, s3, legendItems);
});

svg.append("text")
	.attr("x", 701).attr("y", 1420)
	.attr("text-anchor", "middle")
	.attr("fill", axisColor)
	.style("font-size", "21.7px")
	.text("Frequency (Hz)");
</script>
</body>
</html>
